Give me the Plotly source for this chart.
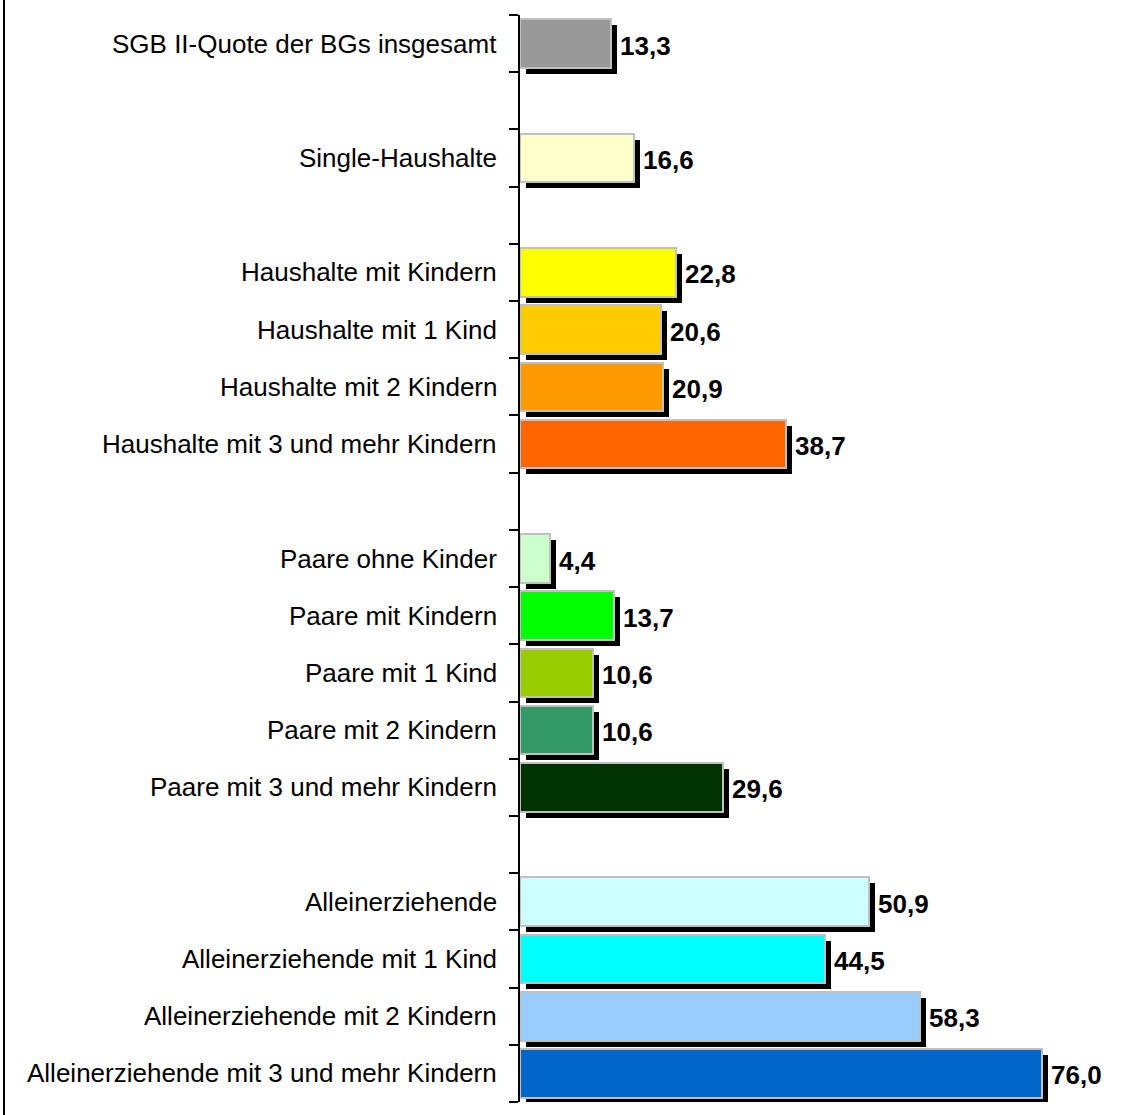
import plotly.graph_objects as go

# Rows from top to bottom; empty strings are spacer rows between the groups
categories = [
    "SGB II-Quote der BGs insgesamt",
    "",
    "Single-Haushalte",
    "",
    "Haushalte mit Kindern",
    "Haushalte mit 1 Kind",
    "Haushalte mit 2 Kindern",
    "Haushalte mit 3 und mehr Kindern",
    "",
    "Paare ohne Kinder",
    "Paare mit Kindern",
    "Paare mit 1 Kind",
    "Paare mit 2 Kindern",
    "Paare mit 3 und mehr Kindern",
    "",
    "Alleinerziehende",
    "Alleinerziehende mit 1 Kind",
    "Alleinerziehende mit 2 Kindern",
    "Alleinerziehende mit 3 und mehr Kindern",
]
values = [13.3, None, 16.6, None, 22.8, 20.6, 20.9, 38.7, None,
          4.4, 13.7, 10.6, 10.6, 29.6, None, 50.9, 44.5, 58.3, 76.0]
colors = ["#999999", None, "#FFFFCC", None, "#FFFF00", "#FFCC00", "#FF9900",
          "#FF6600", None, "#CCFFCC", "#00FF00", "#99CC00", "#339966",
          "#003300", None, "#CCFFFF", "#00FFFF", "#99CCFF", "#0066CC"]

W, H = 1128, 1115
ML, MR, MT, MB = 520, 0, 15, 13
plot_w = W - ML - MR
plot_h = H - MT - MB
n_rows = len(categories)
px_per_unit = 6.862
x_max = plot_w / px_per_unit

rows = [(i + 0.5, v, c, lab) for i, (v, c, lab) in
        enumerate(zip(values, colors, categories)) if v is not None]
ys = [r[0] for r in rows]
vals = [r[1] for r in rows]
cols = [r[2] for r in rows]
labs = [r[3] for r in rows]

# drop shadow offset (6 px right, 6 px down)
dx = 6 / px_per_unit
dy = 6 / (plot_h / n_rows)
bar_w = 0.85

FONT = "Liberation Sans, Arial, sans-serif"

fig = go.Figure()
fig.add_trace(go.Bar(
    orientation="h", y=[y + dy for y in ys], x=vals, base=dx,
    width=bar_w, marker=dict(color="black", line=dict(width=0)),
    hoverinfo="skip", showlegend=False,
))
fig.add_trace(go.Bar(
    orientation="h", y=ys, x=vals, base=0,
    width=bar_w, marker=dict(color=cols, line=dict(color="#C0C0C0", width=2)),
    hoverinfo="skip", showlegend=False,
))

annotations = []
for y, v, lab in zip(ys, vals, labs):
    annotations.append(dict(
        x=0, y=y, xref="x", yref="y", text=lab, showarrow=False,
        xanchor="right", yanchor="middle", xshift=-21, yshift=0,
        font=dict(family=FONT, size=26, color="black"),
    ))
    annotations.append(dict(
        x=v, y=y, xref="x", yref="y",
        text="<b>" + f"{v:.1f}".replace(".", ",") + "</b>",
        showarrow=False, xanchor="left", yanchor="middle", xshift=7, yshift=-2,
        font=dict(family=FONT, size=26, color="black"),
    ))

# frame line along the left edge of the chart
frame_x = -(ML - 4) / plot_w

fig.update_layout(
    width=W, height=H,
    margin=dict(l=ML, r=MR, t=MT, b=MB, pad=0),
    paper_bgcolor="white", plot_bgcolor="white",
    barmode="overlay", bargap=0,
    annotations=annotations,
    xaxis=dict(visible=False, range=[0, x_max], fixedrange=True),
    yaxis=dict(
        range=[n_rows, 0], tickmode="array", tickvals=list(range(n_rows + 1)),
        showticklabels=False, ticks="outside", ticklen=9, tickwidth=2,
        tickcolor="black", showline=True, linecolor="black", linewidth=2,
        showgrid=False, zeroline=False, fixedrange=True,
    ),
    shapes=[dict(
        type="line", xref="paper", x0=frame_x, x1=frame_x, yref="paper",
        y0=-MB / plot_h, y1=1 + MT / plot_h,
        line=dict(color="black", width=2),
    )],
)

fig.write_html("out.html")
